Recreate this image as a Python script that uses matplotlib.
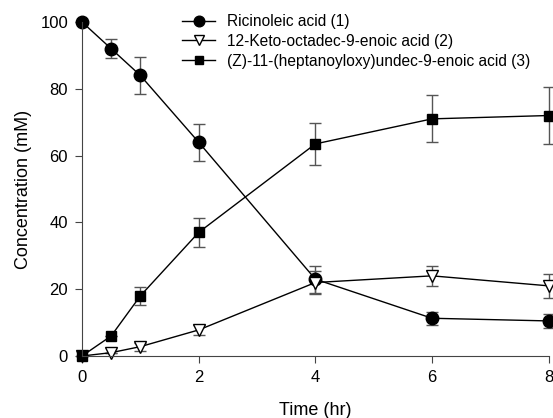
import matplotlib.pyplot as plt

plt.rcParams['font.family'] = ['Liberation Sans', 'DejaVu Sans']

time_hr = [0, 0.5, 1, 2, 4, 6, 8]

ricinoleic = [100, 92, 84, 64, 23, 11.3, 10.5]
ricinoleic_err = [0, 2.8, 5.6, 5.6, 4, 2, 2]

keto = [0, 1, 2.8, 7.8, 22, 24, 21]
keto_err = [0, 0, 1.2, 1.5, 3.5, 3, 3.6]

ester = [0, 6, 18, 37, 63.5, 71, 72]
ester_err = [0, 0, 2.8, 4.3, 6.3, 7, 8.4]

labels = ['Ricinoleic acid (1)',
          '12-Keto-octadec-9-enoic acid (2)',
          '(Z)-11-(heptanoyloxy)undec-9-enoic acid (3)']

fig = plt.figure(figsize=(5.53, 4.18), dpi=100)
ax = fig.add_axes([82 / 553, 1 - 356 / 418, 466.7 / 553, 334 / 418])

styles = [
    dict(marker='o', ms=9, mfc='black', mec='black'),
    dict(marker='v', ms=9, mfc='white', mec='black'),
    dict(marker='s', ms=7, mfc='black', mec='black'),
]
handles = []
for ys, es, st, lab in zip([ricinoleic, keto, ester],
                           [ricinoleic_err, keto_err, ester_err],
                           styles, labels):
    cont = ax.errorbar(time_hr, ys, yerr=es, color='black', lw=1,
                       ecolor='#555555', elinewidth=1, capsize=4,
                       capthick=1, label=lab, clip_on=False, **st)
    for art in cont.lines[0:1] + tuple(cont.lines[1]) + tuple(cont.lines[2]):
        art.set_clip_on(False)
    handles.append(cont.lines[0])

ax.set_xlim(0, 8)
ax.set_ylim(0, 100)
ax.set_xticks([0, 2, 4, 6, 8])
ax.set_yticks([0, 20, 40, 60, 80, 100])
ax.spines['top'].set_visible(False)
ax.spines['right'].set_visible(False)
for s in ['left', 'bottom']:
    ax.spines[s].set_color('#444444')
ax.tick_params(direction='out', length=5, color='#444444', labelsize=12,
               pad=5)
ax.set_xlabel('Time (hr)', fontsize=13, labelpad=12)
ax.set_ylabel('Concentration (mM)', fontsize=13, labelpad=6)

fig.legend(handles, labels, loc='upper left',
           bbox_to_anchor=(176 / 553, 1 - 8 / 418), frameon=False,
           fontsize=11.2, handlelength=2.1, handletextpad=0.75,
           labelspacing=0.3, borderaxespad=0, markerscale=0.85)

fig.savefig('out.png', dpi=100)
